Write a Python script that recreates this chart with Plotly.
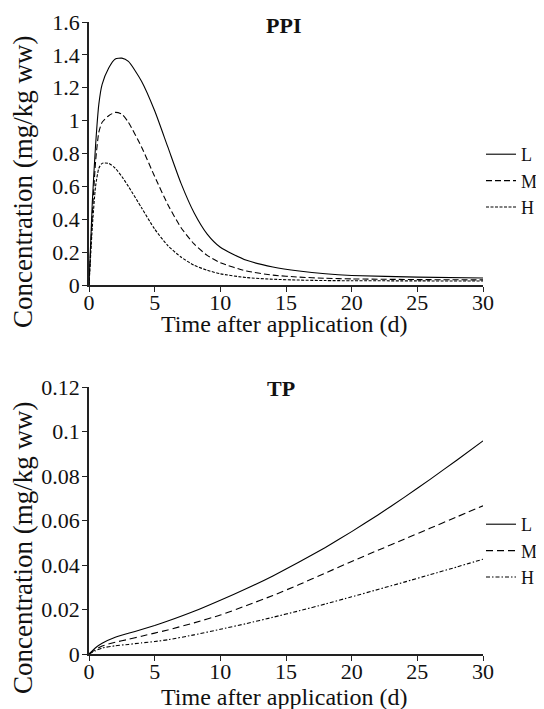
import plotly.graph_objects as go

# ---- data ----
ppi_t = [0, 0.25, 0.5, 0.75, 1, 1.5, 2, 2.5, 3, 4, 5, 6, 7, 8, 9, 10, 12, 14, 16, 18, 20, 25, 30]
ppi_L = [0, 0.5, 0.85, 1.1, 1.22, 1.32, 1.375, 1.38, 1.36, 1.24, 1.06, 0.84, 0.62, 0.44, 0.31, 0.23, 0.15, 0.11, 0.085, 0.068, 0.058, 0.048, 0.043]
ppi_M = [0, 0.42, 0.75, 0.93, 0.99, 1.03, 1.05, 1.04, 0.99, 0.84, 0.66, 0.49, 0.35, 0.25, 0.18, 0.135, 0.085, 0.06, 0.048, 0.041, 0.037, 0.033, 0.031]
ppi_H = [0, 0.35, 0.6, 0.71, 0.74, 0.74, 0.71, 0.66, 0.6, 0.47, 0.34, 0.24, 0.17, 0.12, 0.09, 0.068, 0.045, 0.035, 0.03, 0.027, 0.026, 0.025, 0.024]

tp_t = [0, 0.5, 1, 2, 3, 4, 5, 6, 8, 10, 12, 14, 16, 18, 20, 22, 24, 26, 28, 30]
tp_L = [0, 0.0028, 0.0048, 0.0075, 0.0093, 0.0110, 0.0128, 0.0148, 0.0192, 0.0242, 0.0294, 0.0351, 0.0413, 0.0479, 0.055, 0.0625, 0.0704, 0.0786, 0.0871, 0.0958]
tp_M = [0, 0.002, 0.0036, 0.0053, 0.0066, 0.0080, 0.0094, 0.0108, 0.0140, 0.0175, 0.0218, 0.0263, 0.0312, 0.0364, 0.0416, 0.0466, 0.0516, 0.0566, 0.0616, 0.0666]
tp_H = [0, 0.0015, 0.0027, 0.0037, 0.0043, 0.0050, 0.0056, 0.0064, 0.0086, 0.0111, 0.0137, 0.0165, 0.0194, 0.0225, 0.0257, 0.029, 0.0323, 0.0357, 0.0391, 0.0426]

series_names = ["L", "M", "H"]

FONT = "Liberation Serif, Times New Roman, serif"

# page offset (body margin) and figure size
OFF = 8
W, H = 544 - OFF, 709 - OFF


def xf(px):
    return (px - OFF) / W


def yf(py):
    return 1 - (py - OFF) / H


fig = go.Figure()

for name, ys, d in zip(series_names, [ppi_L, ppi_M, ppi_H], ["solid", "6px,3px", "3px,1.5px"]):
    fig.add_trace(go.Scatter(x=ppi_t, y=ys, mode="lines", name=name,
                             line=dict(color="black", width=1.1, dash=d, shape="spline", smoothing=0.6),
                             xaxis="x", yaxis="y", legend="legend"))
for name, ys, d in zip(series_names, [tp_L, tp_M, tp_H], ["solid", "7px,4px", "4px,2px,1.5px,2px"]):
    fig.add_trace(go.Scatter(x=tp_t, y=ys, mode="lines", name=name,
                             line=dict(color="black", width=1.1, dash=d, shape="spline", smoothing=0.5),
                             xaxis="x2", yaxis="y2", legend="legend2"))

axis_common = dict(showline=True, linecolor="#222", linewidth=1.5, ticks="outside",
                   ticklen=5, tickwidth=1.3, tickcolor="#222", showgrid=False, zeroline=False,
                   tickfont=dict(family=FONT, size=22, color="#111"))

xd = [xf(89), xf(483)]
leg_font = dict(family=FONT, size=18, color="#111")
fig.update_layout(
    width=W, height=H,
    margin=dict(l=0, r=0, t=0, b=0, autoexpand=False),
    paper_bgcolor="white", plot_bgcolor="white",
    xaxis=dict(domain=xd, range=[0, 30], tickvals=[0, 5, 10, 15, 20, 25, 30], anchor="y",
               ticklabelstandoff=-8, **axis_common),
    yaxis=dict(domain=[yf(285), yf(22)], range=[0, 1.6], dtick=0.2, anchor="x",
               ticklabelstandoff=-2, **axis_common),
    xaxis2=dict(domain=xd, range=[0, 30], tickvals=[0, 5, 10, 15, 20, 25, 30], anchor="y2",
                ticklabelstandoff=-8, **axis_common),
    yaxis2=dict(domain=[yf(654), yf(387)], range=[0, 0.12], dtick=0.02, anchor="x2",
                ticklabelstandoff=-2, **axis_common),
    legend=dict(x=xf(481), y=yf(181), xanchor="left", yanchor="middle",
                font=leg_font, bgcolor="rgba(0,0,0,0)", itemwidth=30, tracegroupgap=0),
    legend2=dict(x=xf(481), y=yf(551), xanchor="left", yanchor="middle",
                 font=leg_font, bgcolor="rgba(0,0,0,0)", itemwidth=30, tracegroupgap=0),
    showlegend=True,
)

ann = []
ann.append(dict(text="<b>PPI</b>", x=xf(283), y=yf(25), xref="paper", yref="paper",
                showarrow=False, font=dict(family=FONT, size=22, color="#111"), xanchor="center", yanchor="middle"))
ann.append(dict(text="<b>TP</b>", x=xf(281), y=yf(388), xref="paper", yref="paper",
                showarrow=False, font=dict(family=FONT, size=22, color="#111"), xanchor="center", yanchor="middle"))
for yc in [324, 697]:
    ann.append(dict(text="Time after application (d)", x=xf(284), y=yf(yc), xref="paper", yref="paper",
                    showarrow=False, font=dict(family=FONT, size=24, color="#111"), xanchor="center", yanchor="middle"))
for yc in [182, 548]:
    ann.append(dict(text="Concentration (mg/kg ww)", x=xf(23), y=yf(yc), xref="paper", yref="paper",
                    showarrow=False, textangle=-90, font=dict(family=FONT, size=27, color="#111"),
                    xanchor="center", yanchor="middle"))
fig.update_layout(annotations=ann)

fig.write_html("out.html")
